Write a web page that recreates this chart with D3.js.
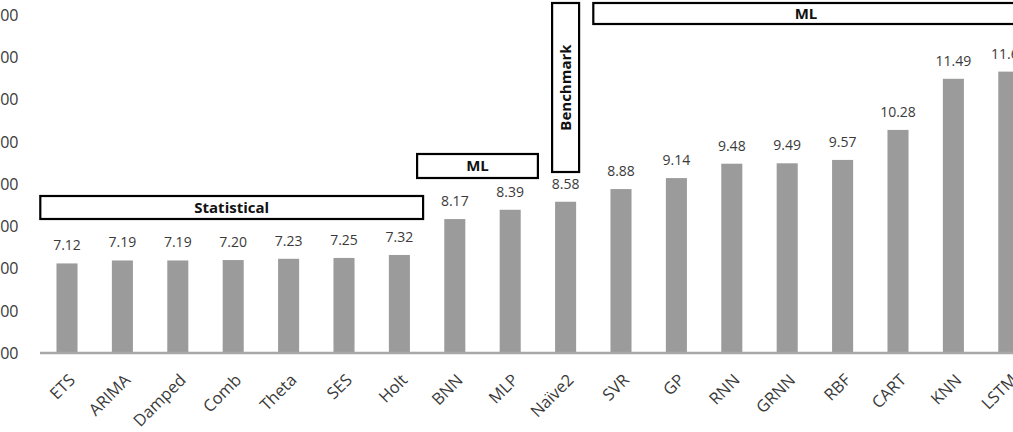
<!DOCTYPE html>
<html>
<head>
<meta charset="utf-8">
<script src="https://cdn.jsdelivr.net/npm/d3@7"></script>
<style>
  html, body { margin: 0; padding: 0; background: #fff; overflow: hidden; }
  svg { display: block; font-family: "Open Sans", sans-serif; }
</style>
</head>
<body>
<div id="chart"></div>
<script>
// method names, left to right
var methods = ["ETS", "ARIMA", "Damped", "Comb", "Theta", "SES", "Holt", "BNN", "MLP",
  "Naïve2", "SVR", "GP", "RNN", "GRNN", "RBF", "CART", "KNN", "LSTM"];
// error values
var scores = [7.12, 7.19, 7.19, 7.20, 7.23, 7.25, 7.32, 8.17, 8.39,
  8.58, 8.88, 9.14, 9.48, 9.49, 9.57, 10.28, 11.49, 11.66];
// y axis ticks
var yTicks = [5, 6, 7, 8, 9, 10, 11, 12, 13];
// group brackets
var groupLabels = ["Statistical", "ML", "Benchmark", "ML"];
var groupFrom = ["ETS", "BNN", "Naïve2", "SVR"];
var groupTo = ["Holt", "MLP", "Naïve2", "LSTM"];

var W = 1013, H = 432;
var svg = d3.select("#chart").append("svg")
    .attr("width", W)
    .attr("height", H);

// plot area (chart is cropped on the left and right like the picture)
var x = d3.scaleBand()
    .domain(methods)
    .range([39.3, 1036.5])
    .paddingInner(0.62)
    .paddingOuter(0.31);
var y = d3.scaleLinear()
    .domain([5, 13])
    .range([353, 15]);

var txtColor = "#3a3a3a";

// y tick labels (only the tail shows)
svg.append("g")
    .selectAll("text")
    .data(yTicks)
    .enter().append("text")
    .attr("x", 18.5)
    .attr("y", function (d) { return y(d); })
    .attr("dy", "0.36em")
    .attr("text-anchor", "end")
    .style("font-size", "16px")
    .style("fill", txtColor)
    .text(function (d) { return d.toFixed(2); });

// bars
svg.append("g")
    .selectAll("rect")
    .data(methods)
    .enter().append("rect")
    .attr("x", function (d) { return x(d); })
    .attr("y", function (d, i) { return y(scores[i]); })
    .attr("width", x.bandwidth())
    .attr("height", function (d, i) { return y(5) - y(scores[i]); })
    .attr("fill", "#9b9b9b");

// x axis line
svg.append("line")
    .attr("x1", 40).attr("x2", W)
    .attr("y1", y(5)).attr("y2", y(5))
    .attr("stroke", "#a8a8a8")
    .attr("stroke-width", 2.5);

// value labels
svg.append("g")
    .selectAll("text")
    .data(methods)
    .enter().append("text")
    .attr("x", function (d) { return x(d) + x.bandwidth() / 2; })
    .attr("y", function (d, i) { return y(scores[i]) - 13; })
    .attr("text-anchor", "middle")
    .style("font-size", "14px")
    .style("fill", txtColor)
    .text(function (d, i) { return scores[i].toFixed(2); });

// category labels, rotated
svg.append("g")
    .selectAll("text")
    .data(methods)
    .enter().append("text")
    .attr("transform", function (d) {
        return "translate(" + (x(d) + x.bandwidth() / 2 + 5) + "," + (y(5) + 24) + ")rotate(-45)";
    })
    .attr("text-anchor", "end")
    .attr("dy", "0.35em")
    .style("font-size", "16.5px")
    .style("fill", txtColor)
    .text(function (d) { return d; });

// group boxes (layout: top/bottom in px, extra left/right inset)
var boxTop = [196, 154, 3, 3];
var boxBottom = [219, 178, 172, 24];
var boxPadL = [-1, 10, -13.5, 0];
var boxPadR = [-4, 0, -13.5, 20];

groupLabels.forEach(function (lab, i) {
    var left = x(groupFrom[i]) - x.step() * x.paddingInner() / 2;
    var right = x(groupTo[i]) + x.bandwidth() + x.step() * x.paddingInner() / 2;
    if (groupFrom[i] === groupTo[i]) {
        var c = x(groupFrom[i]) + x.bandwidth() / 2;
        left = c + boxPadL[i];
        right = c - boxPadR[i];
    } else {
        left = left - boxPadL[i];
        right = right + boxPadR[i];
    }
    var g = svg.append("g");
    g.append("rect")
        .attr("x", left)
        .attr("y", boxTop[i])
        .attr("width", right - left)
        .attr("height", boxBottom[i] - boxTop[i])
        .attr("fill", "#fff")
        .attr("stroke", "#000")
        .attr("stroke-width", 2.2);
    var cx = (left + right) / 2, cy = (boxTop[i] + boxBottom[i]) / 2;
    if (groupFrom[i] === groupTo[i]) {
        g.append("text")
            .attr("transform", "translate(" + cx + "," + cy + ")rotate(-90)")
            .attr("text-anchor", "middle")
            .attr("dy", "0.36em")
            .style("font-size", "15px")
            .style("font-weight", "bold")
            .style("fill", "#111")
            .text(lab);
    } else {
        var tx = (groupTo[i] === "LSTM") ? 806 : cx;
        g.append("text")
            .attr("x", tx)
            .attr("y", cy)
            .attr("text-anchor", "middle")
            .attr("dy", "0.36em")
            .style("font-size", "15px")
            .style("font-weight", "bold")
            .style("fill", "#111")
            .text(lab);
    }
});
</script>
</body>
</html>
